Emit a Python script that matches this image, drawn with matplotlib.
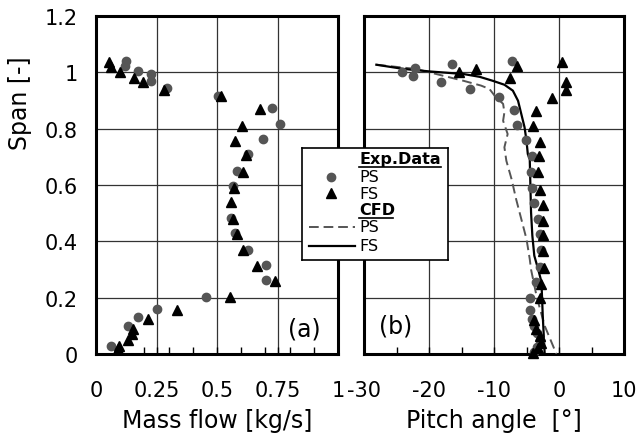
import matplotlib
matplotlib.use("Agg")
import matplotlib.pyplot as plt
from matplotlib.ticker import MultipleLocator

# ---- data ----
# (a) mass flow vs span
mf_ps_x = [0.124, 0.121, 0.172, 0.227, 0.227, 0.292, 0.504, 0.729, 0.760, 0.691, 0.627, 0.584,
           0.565, 0.558, 0.574, 0.629, 0.702, 0.701, 0.453, 0.251, 0.172, 0.131, 0.062]
mf_ps_y = [1.041, 1.022, 1.006, 0.994, 0.970, 0.945, 0.917, 0.874, 0.817, 0.762, 0.709, 0.649,
           0.596, 0.482, 0.428, 0.370, 0.316, 0.262, 0.203, 0.160, 0.130, 0.101, 0.030]
mf_fs_x = [0.055, 0.062, 0.099, 0.158, 0.193, 0.282, 0.517, 0.678, 0.605, 0.576, 0.619, 0.609,
           0.572, 0.558, 0.565, 0.583, 0.609, 0.665, 0.740, 0.554, 0.333, 0.214, 0.152, 0.149,
           0.131, 0.096, 0.090]
mf_fs_y = [1.038, 1.018, 1.002, 0.979, 0.965, 0.938, 0.915, 0.870, 0.811, 0.757, 0.707, 0.645,
           0.590, 0.540, 0.479, 0.426, 0.369, 0.313, 0.259, 0.202, 0.156, 0.124, 0.088, 0.071,
           0.049, 0.030, 0.018]

# (b) pitch angle vs span
pa_ps_x = [-24.1, -22.2, -22.5, -16.4, -18.2, -13.7, -7.3, -9.3, -6.9, -6.4, -5.1, -4.1, -4.3,
           -4.1, -3.9, -3.3, -2.9, -2.8, -3.0, -3.6, -4.5, -4.5, -4.1, -3.8, -3.4, -3.0, -3.4, -3.9]
pa_ps_y = [1.002, 1.015, 0.986, 1.028, 0.966, 0.941, 1.039, 0.911, 0.867, 0.813, 0.759, 0.704,
           0.647, 0.588, 0.535, 0.479, 0.426, 0.369, 0.308, 0.255, 0.199, 0.156, 0.125, 0.100,
           0.075, 0.050, 0.025, 0.008]
pa_fs_x = [-15.4, -12.8, -6.4, -7.5, 0.4, 1.0, 1.0, -1.1, -3.5, -4.0, -3.0, -3.1, -3.3, -3.0,
           -2.5, -2.4, -2.4, -2.5, -2.3, -2.7, -2.9, -3.8, -3.5, -3.0, -2.7, -3.2, -4.0]
pa_fs_y = [1.000, 1.012, 1.024, 0.980, 1.036, 0.965, 0.938, 0.909, 0.864, 0.808, 0.754, 0.702,
           0.645, 0.583, 0.530, 0.473, 0.422, 0.367, 0.304, 0.249, 0.199, 0.120, 0.090, 0.065,
           0.040, 0.020, 0.003]

cfd_ps_x = [-28.1, -22.0, -18.2, -14.7, -12.0, -10.7, -9.9, -8.6, -8.4, -8.6, -7.9, -8.4, -8.1,
            -7.3, -6.6, -5.8, -5.0, -4.5, -4.3, -3.4, -2.2, -0.4]
cfd_ps_y = [1.027, 1.012, 0.990, 0.970, 0.953, 0.941, 0.917, 0.888, 0.858, 0.828, 0.781, 0.734,
            0.686, 0.621, 0.550, 0.479, 0.408, 0.337, 0.300, 0.200, 0.100, 0.0]
cfd_fs_x = [-28.1, -23.9, -19.8, -14.7, -12.2, -10.2, -8.4, -7.1, -6.3, -5.8, -5.3, -5.0, -4.8,
            -4.5, -4.4, -4.3, -4.1, -3.8, -3.2, -2.7, -2.5, -2.2]
cfd_fs_y = [1.027, 1.012, 1.003, 0.994, 0.984, 0.970, 0.956, 0.935, 0.899, 0.852, 0.805, 0.757,
            0.710, 0.692, 0.598, 0.503, 0.420, 0.349, 0.300, 0.256, 0.136, 0.0]

span_ticks = [0, 0.2, 0.4, 0.6, 0.8, 1.0, 1.2]
span_labels = ["0", "0.2", "0.4", "0.6", "0.8", "1", "1.2"]
mf_ticks = [0, 0.25, 0.5, 0.75, 1.0]
mf_labels = ["0", "0.25", "0.5", "0.75", "1"]
pa_ticks = [-30, -20, -10, 0, 10]
pa_labels = ["-30", "-20", "-10", "0", "10"]

W, H = 636, 439
circ_col = "#555555"

fig = plt.figure(figsize=(W / 100, H / 100), dpi=100)
ax1 = fig.add_axes([96 / W, 1 - 355 / H, 242 / W, 338 / H])
ax2 = fig.add_axes([364 / W, 1 - 355 / H, 260 / W, 338 / H])


def style(ax, ticks, labels, minor, show_y):
    ax.set_ylim(0, 1.2)
    ax.set_xlim(ticks[0], ticks[-1])
    ax.set_xticks(ticks)
    ax.set_xticklabels(labels)
    ax.xaxis.set_minor_locator(MultipleLocator(minor))
    ax.set_yticks(span_ticks)
    if show_y:
        ax.set_yticklabels(span_labels)
    else:
        ax.set_yticklabels([])
    ax.tick_params(axis="x", which="both", direction="in", length=5, width=1,
                   labelsize=15, pad=19)
    ax.tick_params(axis="y", length=0, labelsize=15, pad=13)
    ax.grid(True, which="major", color="#333333", linewidth=0.9)
    ax.set_axisbelow(True)
    for s in ax.spines.values():
        s.set_linewidth(2.2)
        s.set_color("black")


style(ax1, mf_ticks, mf_labels, 0.1, True)
style(ax2, pa_ticks, pa_labels, 5, False)

ax1.plot(mf_ps_x, mf_ps_y, "o", color=circ_col, ms=6, mec=circ_col, clip_on=False, zorder=3)
ax1.plot(mf_fs_x, mf_fs_y, "^", color="black", ms=6.5, clip_on=False, zorder=4)

ax2.plot(cfd_ps_x, cfd_ps_y, "--", color="#555555", lw=1.4, dashes=(5, 2.5), zorder=3)
ax2.plot(cfd_fs_x, cfd_fs_y, "-", color="black", lw=1.6, zorder=3)
ax2.plot(pa_ps_x, pa_ps_y, "o", color=circ_col, ms=6, mec=circ_col, clip_on=False, zorder=4)
ax2.plot(pa_fs_x, pa_fs_y, "^", color="black", ms=6.5, clip_on=False, zorder=5)

ax1.text(0.86, 0.075, "(a)", transform=ax1.transAxes, fontsize=17,
         ha="center", va="center")
ax2.text(0.12, 0.083, "(b)", transform=ax2.transAxes, fontsize=17,
         ha="center", va="center")

fig.text(217 / W, 1 - 421 / H, "Mass flow [kg/s]", fontsize=17, ha="center", va="center")
fig.text(494 / W, 1 - 421 / H, "Pitch angle  [\u00b0]", fontsize=17, ha="center", va="center")
fig.text(20 / W, 1 - 103 / H, "Span [-]", fontsize=17, ha="center", va="center", rotation=90)

# legend box drawn by hand (pixel coordinates)
axl = fig.add_axes([302 / W, 1 - 261 / H, 146 / W, 112 / H])
axl.set_xlim(302, 448)
axl.set_ylim(261, 149)
axl.set_xticks([])
axl.set_yticks([])
for s in axl.spines.values():
    s.set_linewidth(1.2)
tx = 359
fs = 11.5
axl.text(tx, 160, "Exp.Data", fontsize=fs, fontweight="bold", va="center", ha="left")
axl.plot([tx, 441], [167.5, 167.5], color="black", lw=1.2)
axl.plot([331], [178], "o", color=circ_col, ms=6)
axl.text(tx, 178, "PS", fontsize=fs, va="center")
axl.plot([331], [194], "^", color="black", ms=6.5)
axl.text(tx, 194.5, "FS", fontsize=fs, va="center")
axl.text(tx, 211, "CFD", fontsize=fs, fontweight="bold", va="center")
axl.plot([tx, 393], [219, 219], color="black", lw=1.2)
axl.plot([309, 355], [228, 228], "--", color="#555555", lw=1.4, dashes=(5, 2.5))
axl.text(tx, 228, "PS", fontsize=fs, va="center")
axl.plot([309, 355], [247, 247], "-", color="black", lw=1.6)
axl.text(tx, 247, "FS", fontsize=fs, va="center")

fig.savefig("out.png", dpi=100)
